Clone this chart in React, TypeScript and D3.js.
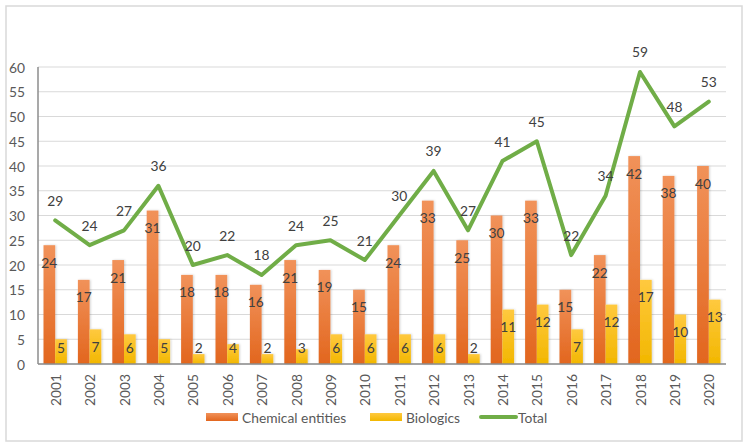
import * as d3 from "d3";

const years = [
  "2001", "2002", "2003", "2004", "2005", "2006", "2007", "2008", "2009", "2010",
  "2011", "2012", "2013", "2014", "2015", "2016", "2017", "2018", "2019", "2020",
];
const chemical = [24, 17, 21, 31, 18, 18, 16, 21, 19, 15, 24, 33, 25, 30, 33, 15, 22, 42, 38, 40];
const biologics = [5, 7, 6, 5, 2, 4, 2, 3, 6, 6, 6, 6, 2, 11, 12, 7, 12, 17, 10, 13];
const total = [29, 24, 27, 36, 20, 22, 18, 24, 25, 21, 30, 39, 27, 41, 45, 22, 34, 59, 48, 53];
const yTicks = [0, 5, 10, 15, 20, 25, 30, 35, 40, 45, 50, 55, 60];

const FONT = "Lato, 'Open Sans', sans-serif";
const FS = 13.8;

export default function App() {
  const width = 748,
    height = 447;

  const x = d3.scaleBand<string>().domain(years).range([38, 726]).padding(0);
  const y = d3.scaleLinear().domain([0, 60]).range([364, 67]);
  const bw = x.bandwidth() * 0.34;
  const cx = (yr: string) => (x(yr) as number) + x.bandwidth() / 2;

  const line = d3
    .line<number>()
    .x((d, i) => cx(years[i]))
    .y((d) => y(d));

  // label sits inside the top of the bar, but never below the base offset
  const barLabelY = (v: number) => Math.min(y(v) + 17, y(0) - 17);

  return (
    <svg
      width={width}
      height={height}
      style={{ position: "absolute", left: 0, top: 0 }}
      fontFamily={FONT}
    >
      <defs>
        <linearGradient id="gOrange" x1="0" y1="0" x2="0" y2="1">
          <stop offset="0%" stopColor="#F1925A" />
          <stop offset="100%" stopColor="#E2661E" />
        </linearGradient>
        <linearGradient id="gYellow" x1="0" y1="0" x2="0" y2="1">
          <stop offset="0%" stopColor="#FFC93F" />
          <stop offset="100%" stopColor="#F2B700" />
        </linearGradient>
        <filter id="shadow" x="-30%" y="-10%" width="160%" height="120%">
          <feDropShadow dx="1" dy="0" stdDeviation="1.2" floodColor="#000" floodOpacity="0.18" />
        </filter>
      </defs>

      <rect x={0} y={0} width={width} height={height} fill="#fff" />
      <rect
        x={6}
        y={6}
        width={736}
        height={435}
        fill="#fff"
        stroke="#d9d9d9"
        strokeWidth={1.5}
      />

      {/* gridlines */}
      {yTicks.map((t) => (
        <line key={t} x1={38} x2={726} y1={y(t)} y2={y(t)} stroke="#d9d9d9" strokeWidth={1} />
      ))}

      {/* y tick labels */}
      {yTicks.map((t) => (
        <text
          key={"yl" + t}
          x={25}
          y={y(t)}
          textAnchor="end"
          dominantBaseline="central"
          fontSize={FS}
          fill="#595959"
        >
          {t}
        </text>
      ))}

      {/* bars */}
      <g filter="url(#shadow)">
        {years.map((yr, i) => (
          <rect
            key={"c" + yr}
            x={cx(yr) - bw}
            y={y(chemical[i])}
            width={bw}
            height={y(0) - y(chemical[i])}
            fill="url(#gOrange)"
          />
        ))}
        {years.map((yr, i) => (
          <rect
            key={"b" + yr}
            x={cx(yr)}
            y={y(biologics[i])}
            width={bw}
            height={y(0) - y(biologics[i])}
            fill="url(#gYellow)"
          />
        ))}
      </g>

      {/* axes */}
      <line x1={38} x2={38} y1={67} y2={y(0)} stroke="#8c8c8c" strokeWidth={1.5} />
      <line x1={38} x2={726} y1={y(0)} y2={y(0)} stroke="#8c8c8c" strokeWidth={1.5} />

      {/* bar labels */}
      {years.map((yr, i) => (
        <text
          key={"cl" + yr}
          x={cx(yr) - bw / 2}
          y={barLabelY(chemical[i])}
          textAnchor="middle"
          dominantBaseline="central"
          fontSize={FS}
          fill="#404040"
        >
          {chemical[i]}
        </text>
      ))}
      {years.map((yr, i) => (
        <text
          key={"bl" + yr}
          x={cx(yr) + bw / 2}
          y={barLabelY(biologics[i])}
          textAnchor="middle"
          dominantBaseline="central"
          fontSize={FS}
          fill="#404040"
        >
          {biologics[i]}
        </text>
      ))}

      {/* total line */}
      <path
        d={line(total) as string}
        fill="none"
        stroke="#70AD47"
        strokeWidth={4}
        strokeLinejoin="round"
        strokeLinecap="round"
      />
      {years.map((yr, i) => (
        <text
          key={"tl" + yr}
          x={cx(yr)}
          y={y(total[i]) - 20}
          textAnchor="middle"
          dominantBaseline="central"
          fontSize={FS}
          fill="#404040"
        >
          {total[i]}
        </text>
      ))}

      {/* x tick labels */}
      {years.map((yr) => (
        <text
          key={"xl" + yr}
          transform={`translate(${cx(yr)},${y(0) + 10}) rotate(-90)`}
          textAnchor="end"
          dominantBaseline="central"
          fontSize={FS}
          fill="#595959"
        >
          {yr}
        </text>
      ))}

      {/* legend */}
      <rect x={206} y={413} width={32} height={8} fill="url(#gOrange)" />
      <text x={242} y={417} dominantBaseline="central" fontSize={FS} fill="#595959">
        Chemical entities
      </text>
      <rect x={370} y={413} width={32} height={8} fill="url(#gYellow)" />
      <text x={406} y={417} dominantBaseline="central" fontSize={FS} fill="#595959">
        Biologics
      </text>
      <line x1={481} x2={516} y1={417} y2={417} stroke="#70AD47" strokeWidth={4} strokeLinecap="round" />
      <text x={518} y={417} dominantBaseline="central" fontSize={FS} fill="#595959">
        Total
      </text>
    </svg>
  );
}
